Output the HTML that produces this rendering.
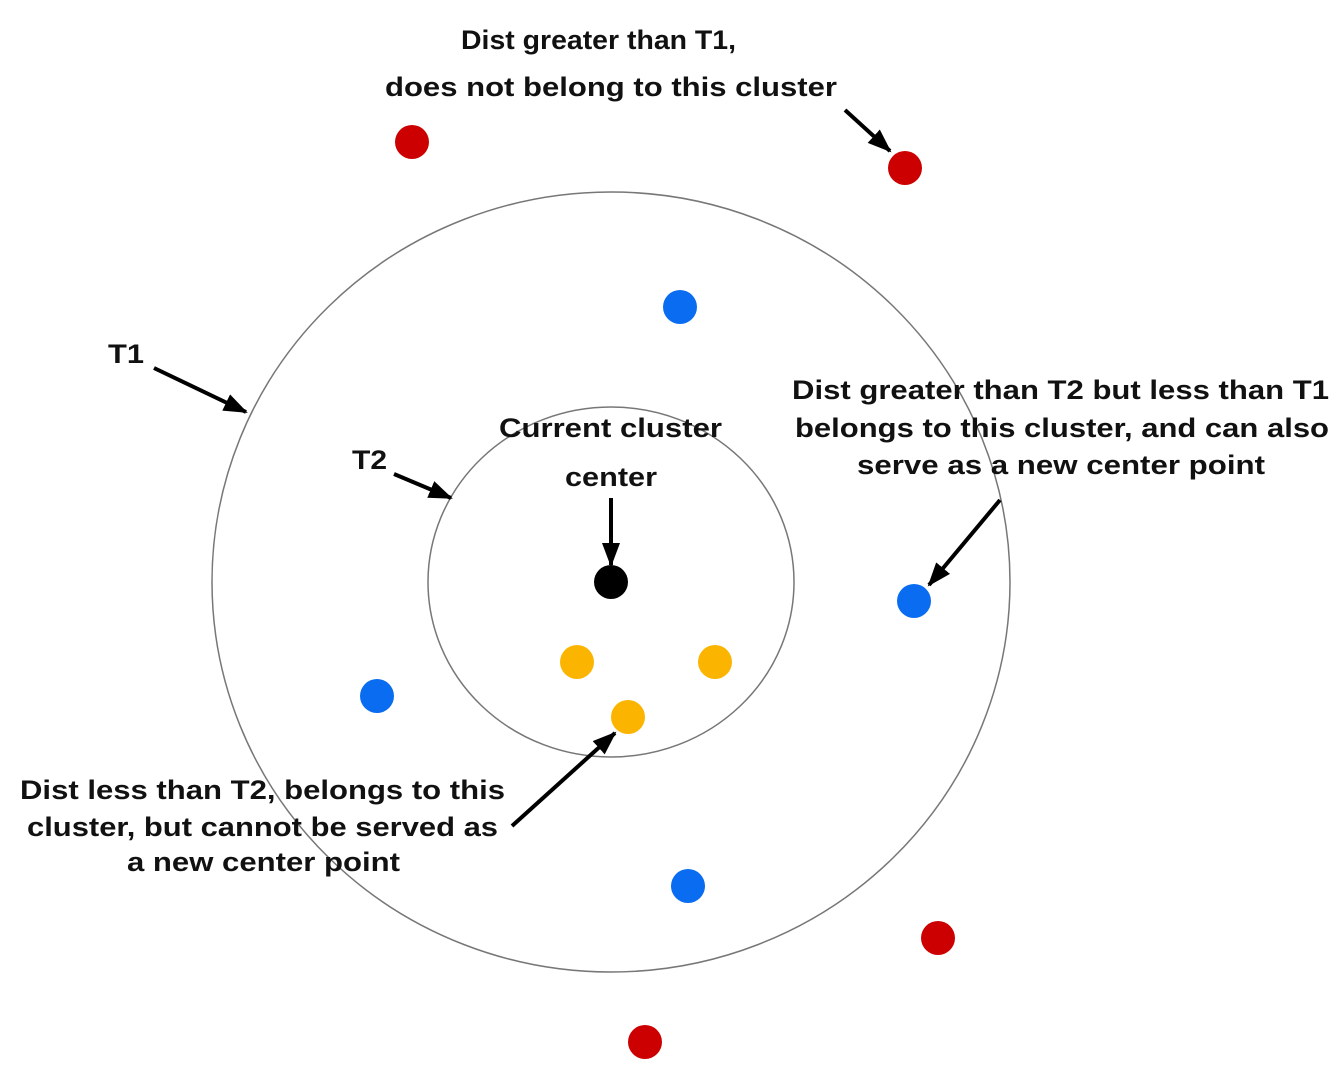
<!DOCTYPE html>
<html><head><meta charset="utf-8"><style>
html,body{margin:0;padding:0;background:#fff;}
svg text{font-family:"Liberation Sans",Arial,sans-serif;font-weight:bold;font-size:27px;fill:#111;}
</style></head><body>
<svg width="1342" height="1075" viewBox="0 0 1342 1075" xmlns="http://www.w3.org/2000/svg">
<defs>
<marker id="a" viewBox="0 0 24 24" refX="22" refY="12" markerWidth="24" markerHeight="24" markerUnits="userSpaceOnUse" orient="auto">
<path d="M0,3 L24,12 L0,21 Z" fill="#000"/>
</marker>
</defs>
<ellipse cx="611" cy="582" rx="399" ry="390" fill="none" stroke="#777" stroke-width="1.5"/>
<ellipse cx="611" cy="582" rx="183" ry="175" fill="none" stroke="#777" stroke-width="1.5"/>
<g fill="#cc0000">
<circle cx="412" cy="142" r="17"/><circle cx="905" cy="168" r="17"/>
<circle cx="938" cy="938" r="17"/><circle cx="645" cy="1042" r="17"/>
</g>
<g fill="#0a6cf0">
<circle cx="680" cy="307" r="17"/><circle cx="914" cy="601" r="17"/>
<circle cx="377" cy="696" r="17"/><circle cx="688" cy="886" r="17"/>
</g>
<g fill="#fbb500">
<circle cx="577" cy="662" r="17"/><circle cx="715" cy="662" r="17"/><circle cx="628" cy="717" r="17"/>
</g>
<circle cx="611" cy="582" r="17" fill="#000"/>
<g stroke="#000" stroke-width="4" fill="none" marker-end="url(#a)">
<line x1="845" y1="110" x2="890" y2="151"/>
<line x1="154" y1="368" x2="246" y2="412"/>
<line x1="394" y1="474" x2="451" y2="498"/>
<line x1="611" y1="498" x2="611" y2="565"/>
<line x1="1000" y1="500" x2="929" y2="585"/>
<line x1="512" y1="826" x2="615" y2="733"/>
</g>
<text x="461" y="49" textLength="275" lengthAdjust="spacingAndGlyphs">Dist greater than T1,</text>
<text x="385" y="96" textLength="452" lengthAdjust="spacingAndGlyphs">does not belong to this cluster</text>
<text x="108" y="363" textLength="36" lengthAdjust="spacingAndGlyphs">T1</text>
<text x="352" y="469" textLength="35" lengthAdjust="spacingAndGlyphs">T2</text>
<text x="499" y="437" textLength="223" lengthAdjust="spacingAndGlyphs">Current cluster</text>
<text x="565" y="486" textLength="92" lengthAdjust="spacingAndGlyphs">center</text>
<text x="792" y="399" textLength="537" lengthAdjust="spacingAndGlyphs">Dist greater than T2 but less than T1</text>
<text x="795" y="437" textLength="534" lengthAdjust="spacingAndGlyphs">belongs to this cluster, and can also</text>
<text x="857" y="474" textLength="408" lengthAdjust="spacingAndGlyphs">serve as a new center point</text>
<text x="20" y="799" textLength="485" lengthAdjust="spacingAndGlyphs">Dist less than T2, belongs to this</text>
<text x="27" y="836" textLength="471" lengthAdjust="spacingAndGlyphs">cluster, but cannot be served as</text>
<text x="127" y="871" textLength="273" lengthAdjust="spacingAndGlyphs">a new center point</text>
</svg>
</body></html>
